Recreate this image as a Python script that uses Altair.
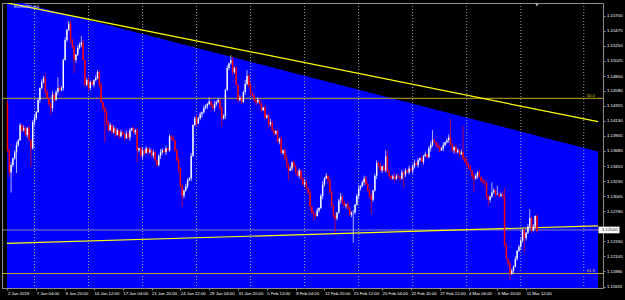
import altair as alt
import pandas as pd

# ---------------- data (EURUSD H4) ----------------
open_first = 1.1440
close = [
    1.1369, 1.1336, 1.1347, 1.1357, 1.1366, 1.1377, 1.1384, 1.1407, 1.1399, 1.1402,
    1.1392, 1.1402, 1.1384, 1.1372, 1.1411, 1.1417, 1.1426, 1.1444, 1.1462, 1.1471,
    1.1477, 1.1456, 1.1447, 1.1438, 1.1432, 1.1452, 1.1444, 1.1456, 1.1462, 1.1459,
    1.1462, 1.1504, 1.1534, 1.1549, 1.1558, 1.1534, 1.1524, 1.1504, 1.1512, 1.1522,
    1.1527, 1.1530, 1.1504, 1.1467, 1.1474, 1.1462, 1.1471, 1.1467, 1.1474, 1.1477,
    1.1486, 1.1467, 1.1441, 1.1432, 1.1426, 1.1411, 1.1399, 1.1407, 1.1396, 1.1402,
    1.1392, 1.1399, 1.1390, 1.1396, 1.1393, 1.1387, 1.1394, 1.1388, 1.1399, 1.1402,
    1.1396, 1.1399, 1.1369, 1.1372, 1.1361, 1.1369, 1.1365, 1.1372, 1.1366, 1.1369,
    1.1361, 1.1366, 1.1354, 1.1347, 1.1361, 1.1366, 1.1369, 1.1366, 1.1372, 1.1369,
    1.1390, 1.1387, 1.1384, 1.1369, 1.1354, 1.1342, 1.1316, 1.1301, 1.1309, 1.1315,
    1.1324, 1.1327, 1.1361, 1.1407, 1.1417, 1.1409, 1.1417, 1.1423, 1.1426, 1.1432,
    1.1435, 1.1438, 1.1442, 1.1436, 1.1432, 1.1438, 1.1441, 1.1444, 1.1432, 1.1417,
    1.1420, 1.1459, 1.1492, 1.1499, 1.1504, 1.1486, 1.1492, 1.1467, 1.1444, 1.1447,
    1.1441, 1.1456, 1.1468, 1.1480, 1.1465, 1.1454, 1.1450, 1.1444, 1.1441, 1.1444,
    1.1438, 1.1429, 1.1433, 1.1418, 1.1421, 1.1408, 1.1411, 1.1399, 1.1394, 1.1398,
    1.1382, 1.1386, 1.1365, 1.1369, 1.1357, 1.1348, 1.1339, 1.1342, 1.1351, 1.1345,
    1.1336, 1.1331, 1.1339, 1.1327, 1.1318, 1.1321, 1.1312, 1.1306, 1.1285, 1.1276,
    1.1273, 1.1271, 1.1279, 1.1283, 1.1301, 1.1318, 1.1327, 1.1331, 1.1324, 1.1306,
    1.1286, 1.1271, 1.1267, 1.1276, 1.1294, 1.1300, 1.1291, 1.1286, 1.1288, 1.1282,
    1.1273, 1.1276, 1.1276, 1.1288, 1.1301, 1.1312, 1.1315, 1.1321, 1.1327, 1.1318,
    1.1309, 1.1301, 1.1295, 1.1309, 1.1331, 1.1350, 1.1347, 1.1339, 1.1345, 1.1339,
    1.1360, 1.1336, 1.1331, 1.1327, 1.1330, 1.1326, 1.1331, 1.1330, 1.1327, 1.1336,
    1.1333, 1.1339, 1.1336, 1.1342, 1.1339, 1.1345, 1.1350, 1.1347, 1.1354, 1.1357,
    1.1352, 1.1360, 1.1363, 1.1359, 1.1372, 1.1377, 1.1384, 1.1381, 1.1377, 1.1374,
    1.1369, 1.1372, 1.1377, 1.1381, 1.1384, 1.1388, 1.1377, 1.1369, 1.1374, 1.1366,
    1.1369, 1.1363, 1.1366, 1.1357, 1.1352, 1.1348, 1.1344, 1.1339, 1.1330, 1.1327,
    1.1331, 1.1336, 1.1329, 1.1324, 1.1321, 1.1320, 1.1300, 1.1295, 1.1300, 1.1306,
    1.1309, 1.1303, 1.1304, 1.1301, 1.1303, 1.1301, 1.1227, 1.1207, 1.1200, 1.1185,
    1.1189, 1.1195, 1.1207, 1.1219, 1.1225, 1.1234, 1.1250, 1.1238, 1.1246, 1.1255,
    1.1268, 1.1249, 1.1255, 1.1271, 1.1249,
]
# upper / lower shadow lengths in pips
hi_wick = [
    4, 2, 4, 1, 3, 5, 2, 3, 1, 4,   3, 2, 4, 1, 3, 5, 2, 3, 1, 4,
    3, 7, 4, 1, 3, 5, 2, 3, 16, 4,  3, 2, 4, 1, 4, 5, 2, 3, 1, 4,
    3, 10, 4, 1, 3, 5, 2, 3, 1, 4,  3, 2, 4, 1, 3, 5, 2, 3, 1, 4,
    2, 3, 1, 4, 2, 3, 5, 2, 3, 1,   3, 2, 4, 1, 3, 5, 2, 3, 1, 4,
    2, 4, 3, 1, 2, 5, 3, 2, 4, 1,   3, 2, 4, 1, 3, 5, 2, 3, 1, 4,
    3, 2, 4, 1, 3, 5, 2, 3, 1, 4,   3, 2, 6, 1, 3, 5, 2, 3, 1, 4,
    3, 2, 4, 1, 7, 5, 2, 3, 1, 4,   3, 2, 6, 9, 3, 5, 2, 3, 1, 4,
    2, 3, 1, 4, 2, 3, 5, 2, 3, 1,   3, 2, 4, 1, 3, 5, 2, 3, 1, 4,
    2, 4, 3, 1, 2, 5, 3, 2, 4, 1,   3, 2, 4, 1, 3, 5, 2, 4, 1, 4,
    3, 2, 4, 1, 3, 5, 2, 3, 1, 4,   3, 2, 4, 1, 3, 5, 2, 3, 4, 4,
    3, 2, 4, 1, 3, 4, 2, 3, 1, 4,   9, 9, 4, 1, 3, 5, 2, 3, 1, 4,
    2, 3, 1, 4, 2, 3, 5, 2, 3, 1,   3, 2, 4, 1, 3, 5, 15, 3, 1, 4,
    3, 2, 4, 1, 3, 5, 28, 3, 1, 4,  3, 2, 4, 40, 3, 5, 2, 3, 1, 4,
    3, 2, 4, 1, 3, 5, 2, 3, 1, 15,  3, 2, 12, 1, 3, 5, 12, 3, 1, 4,
    3, 2, 4, 1, 3, 5, 2, 3, 1, 4,   13, 2, 4, 1, 3,
]
lo_wick = [
    3, 7, 30, 3, 2, 31, 3, 1, 4, 2,  2, 4, 1, 28, 2, 5, 3, 1, 4, 2,
    2, 4, 1, 3, 10, 5, 3, 1, 4, 2,   2, 4, 1, 3, 2, 5, 3, 20, 4, 2,
    2, 4, 1, 3, 2, 5, 3, 1, 4, 2,    2, 4, 1, 3, 45, 5, 3, 1, 4, 2,
    3, 1, 4, 2, 2, 4, 1, 3, 5, 2,    2, 4, 18, 3, 2, 5, 3, 1, 4, 2,
    2, 4, 1, 3, 2, 5, 3, 1, 4, 2,    2, 4, 1, 3, 2, 5, 3, 15, 4, 2,
    3, 1, 4, 2, 2, 4, 1, 3, 5, 2,    2, 4, 1, 3, 2, 5, 3, 1, 4, 13,
    2, 4, 1, 3, 2, 5, 3, 1, 4, 2,    3, 1, 4, 2, 2, 4, 1, 3, 5, 2,
    2, 4, 1, 3, 2, 5, 3, 1, 4, 2,    2, 4, 1, 3, 2, 5, 15, 1, 4, 2,
    3, 1, 4, 2, 2, 4, 1, 3, 5, 2,    9, 4, 1, 3, 2, 5, 3, 1, 4, 2,
    2, 4, 21, 3, 2, 5, 3, 1, 4, 2,   2, 4, 45, 3, 2, 5, 3, 1, 4, 2,
    2, 4, 21, 3, 2, 5, 3, 1, 4, 2,   3, 1, 4, 2, 2, 4, 1, 3, 5, 2,
    20, 4, 1, 3, 2, 5, 3, 1, 4, 2,   2, 4, 1, 3, 2, 5, 3, 1, 4, 2,
    3, 1, 4, 2, 2, 4, 1, 3, 5, 2,    2, 4, 1, 3, 2, 5, 3, 1, 4, 21,
    2, 4, 1, 3, 2, 5, 3, 9, 4, 2,    2, 4, 1, 3, 2, 5, 3, 1, 4, 10,
    2, 4, 1, 3, 2, 5, 3, 22, 4, 2,   2, 4, 1, 3, 3,
]

x_labels = ["2 Jan 2019", "7 Jan 04:00", "9 Jan 20:00", "14 Jan 12:00", "17 Jan 04:00",
            "21 Jan 20:00", "24 Jan 12:00", "29 Jan 04:00", "31 Jan 20:00", "5 Feb 12:00",
            "8 Feb 04:00", "12 Feb 20:00", "15 Feb 12:00", "20 Feb 04:00", "22 Feb 20:00",
            "27 Feb 12:00", "4 Mar 04:00", "6 Mar 20:00", "11 Mar 12:00"]
bars_per_label = 16
y_ticks = [1.11655, 1.11880, 1.12105, 1.12330, 1.12780, 1.13005, 1.13230,
           1.13455, 1.13680, 1.13905, 1.14130, 1.14355, 1.14580, 1.14800, 1.15025,
           1.15250, 1.15475, 1.15700]
grid_bars = [15, 45, 75, 105, 135, 165, 195, 225, 255, 285, 320]

X_MIN, X_MAX = -0.27, 327.9
Y_MIN, Y_MAX = 1.11633, 1.15891

fib_levels = [1.14467, 1.11849]
fib_names = ["50.0", "61.8"]
bid_price = 1.12500
trend_price = [1.15894, 1.14118]     # descending yellow trend line (left, right)
shade_price = [1.15951, 1.13671]     # top edge of the blue zone (left, right)
support_price = [1.12299, 1.12562]   # rising yellow line (left, right)
symbol_name = "EURUSD,H4"

# ---------------- build tables ----------------
n = min(len(close), len(hi_wick), len(lo_wick))
opens = [open_first] + close[:n - 1]
rows = []
for i in range(n):
    o, c = opens[i], close[i]
    rows.append(dict(i=i, open=o, close=c,
                     high=max(o, c) + hi_wick[i] * 0.0001,
                     low=min(o, c) - lo_wick[i] * 0.0001,
                     up=bool(c >= o)))
candles = pd.DataFrame(rows)

ends = [X_MIN, X_MAX]
shade_df = pd.DataFrame({"i": ends, "p": shade_price, "base": [Y_MIN, Y_MIN]})
trend_df = pd.DataFrame({"i": ends, "p": trend_price})
support_df = pd.DataFrame({"i": ends, "p": support_price})
fib_df = pd.DataFrame({"i": [X_MAX] * 2, "p": fib_levels, "txt": fib_names})
bid_df = pd.DataFrame({"i": [X_MAX], "p": [bid_price], "txt": [f"{bid_price:.5f}"]})
grid_df = pd.DataFrame({"i": grid_bars})
title_df = pd.DataFrame({"i": [X_MIN], "p": [Y_MAX], "txt": [symbol_name]})
shift_df = pd.DataFrame({"i": [n - 1], "p": [Y_MAX]})

# ---------------- scales / axes ----------------
FONT = "Liberation Sans"
FS = 4.3
xs = alt.Scale(domain=[X_MIN, X_MAX], nice=False, zero=False)
ys = alt.Scale(domain=[Y_MIN, Y_MAX], nice=False, zero=False)
label_arr = "[" + ",".join(f"'{s}'" for s in x_labels) + "]"
xaxis = alt.Axis(values=[k * bars_per_label for k in range(len(x_labels))],
                 labelExpr=f"{label_arr}[round(datum.value/{bars_per_label})]",
                 labelAlign="left", labelBaseline="top", labelFontSize=FS, labelFont=FONT,
                 labelColor="#ffffff", labelPadding=1.5, tickSize=2, tickColor="#8c8c8c",
                 domainColor="#8c8c8c", grid=False, labelOverlap=False, labelFlush=False,
                 labelBound=False, title=None)
yaxis = alt.Axis(orient="right", values=y_ticks, format=".5f", labelFontSize=FS,
                 labelFont=FONT, labelColor="#ffffff", labelAlign="left", labelPadding=1.5,
                 tickSize=2, tickColor="#8c8c8c", domain=False, grid=False,
                 labelOverlap=False, labelFlush=False, labelBound=False, title=None)


def X(f):
    return alt.X(f"{f}:Q", scale=xs, axis=xaxis, title=None)


def Y(f):
    return alt.Y(f"{f}:Q", scale=ys, axis=yaxis, title=None)


shade = alt.Chart(shade_df).mark_area(color="#0000ff", clip=True).encode(
    x=X("i"), y=Y("p"), y2=alt.Y2("base:Q"))
grid = alt.Chart(grid_df).mark_rule(color="#c8c8a0", strokeDash=[1, 2], strokeWidth=0.8).encode(
    x=X("i"))
fib = alt.Chart(fib_df).mark_rule(color="#c0aa20", strokeWidth=1).encode(y=Y("p"))
fib_txt = alt.Chart(fib_df).mark_text(color="#d8c030", fontSize=FS, font=FONT, align="right",
                                      baseline="bottom", dx=-3, dy=-0.5).encode(
    x=X("i"), y=Y("p"), text="txt:N")
bid_line = alt.Chart(bid_df).mark_rule(color="#a8a8a8", strokeWidth=0.8).encode(y=Y("p"))
support = alt.Chart(support_df).mark_line(color="#ffff00", strokeWidth=1.2, clip=True).encode(
    x=X("i"), y=Y("p"))
trend = alt.Chart(trend_df).mark_line(color="#ffff00", strokeWidth=1.2, clip=True).encode(
    x=X("i"), y=Y("p"))
col = alt.condition("datum.up", alt.value("#ffffff"), alt.value("#ff0000"))
wicks = alt.Chart(candles).mark_rule(strokeWidth=0.8, opacity=0.85).encode(
    x=X("i"), y=Y("low"), y2=alt.Y2("high:Q"), color=col)
bodies = alt.Chart(candles).mark_bar(size=1.4).encode(
    x=X("i"), y=Y("open"), y2=alt.Y2("close:Q"), color=col)
bid_box = alt.Chart(bid_df).mark_point(
    shape="M-1,-0.32L1,-0.32L1,0.32L-1,0.32Z", size=441, filled=True, color="#ffffff",
    opacity=1, xOffset=11, clip=False).encode(x=X("i"), y=Y("p"))
bid_txt = alt.Chart(bid_df).mark_text(color="#000000", fontSize=FS, font=FONT, align="left",
                                      baseline="middle", dx=4).encode(
    x=X("i"), y=Y("p"), text="txt:N")
title = alt.Chart(title_df).mark_text(color="#e0e0ff", fontSize=FS, font=FONT, align="left",
                                      baseline="top", dx=7, dy=2).encode(
    x=X("i"), y=Y("p"), text="txt:N")
shift = alt.Chart(shift_df).mark_point(shape="triangle-down", filled=True, size=12,
                                       color="#bbbbbb", opacity=1, yOffset=2).encode(
    x=X("i"), y=Y("p"))

chart = alt.layer(
    shade, grid, fib, bid_line, support, trend, wicks, bodies, fib_txt, bid_box, bid_txt,
    title, shift
).properties(
    width=601, height=285,
    padding={"left": 2, "top": 3, "right": 22, "bottom": 12},
    autosize=alt.AutoSizeParams(type="none"),
).configure(background="#000000").configure_view(stroke="#8c8c8c", strokeWidth=1)

chart.save("out.html", embed_options={"renderer": "svg", "actions": False})
